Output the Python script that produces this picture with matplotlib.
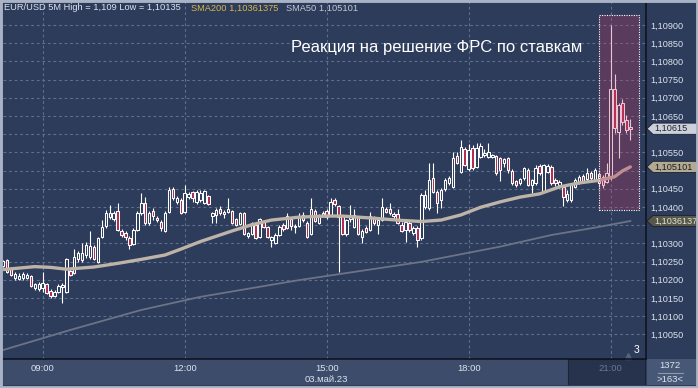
import numpy as np
import pandas as pd
import matplotlib
matplotlib.use("Agg")
import matplotlib.pyplot as plt
from matplotlib.patches import Rectangle, Polygon
from matplotlib.transforms import blended_transform_factory
from matplotlib.ticker import FixedLocator, FuncFormatter

plt.rcParams['font.family'] = ['Liberation Sans', 'DejaVu Sans']

# ---------------- data (EUR/USD, 5 min candles, 03.05.2023) ----------------
start_time = "2023-05-03 08:10"
opens = [1.10238, 1.10254, 1.10232, 1.10205, 1.10203, 1.10205, 1.10205, 1.10210, 1.10177, 1.10175,
         1.10178, 1.10188, 1.10169, 1.10155, 1.10167, 1.10180, 1.10166, 1.10225, 1.10219, 1.10257,
         1.10254, 1.10268, 1.10263, 1.10291, 1.10250, 1.10318, 1.10348, 1.10372, 1.10366, 1.10389,
         1.10334, 1.10329, 1.10314, 1.10299, 1.10337, 1.10383, 1.10412, 1.10355, 1.10390, 1.10369,
         1.10360, 1.10334, 1.10387, 1.10449, 1.10414, 1.10419, 1.10387, 1.10428, 1.10440, 1.10414,
         1.10419, 1.10412, 1.10430, 1.10375, 1.10377, 1.10395, 1.10380, 1.10387, 1.10389, 1.10366,
         1.10353, 1.10383, 1.10320, 1.10326, 1.10350, 1.10318, 1.10360, 1.10344, 1.10309, 1.10302,
         1.10323, 1.10350, 1.10343, 1.10366, 1.10344, 1.10349, 1.10379, 1.10357, 1.10325, 1.10389,
         1.10357, 1.10378, 1.10389, 1.10377, 1.10419, 1.10403, 1.10375, 1.10325, 1.10366, 1.10346,
         1.10372, 1.10318, 1.10341, 1.10337, 1.10372, 1.10350, 1.10364, 1.10395, 1.10394, 1.10374,
         1.10380, 1.10350, 1.10337, 1.10355, 1.10328, 1.10343, 1.10314, 1.10399, 1.10397, 1.10479,
         1.10442, 1.10419, 1.10449, 1.10465, 1.10456, 1.10540, 1.10497, 1.10558, 1.10503, 1.10561,
         1.10511, 1.10538, 1.10543, 1.10538, 1.10538, 1.10540, 1.10534, 1.10520, 1.10534, 1.10500,
         1.10471, 1.10465, 1.10479, 1.10502, 1.10460, 1.10465, 1.10513, 1.10445, 1.10497, 1.10511,
         1.10474, 1.10460, 1.10456, 1.10419, 1.10419, 1.10456, 1.10467, 1.10485, 1.10476, 1.10494,
         1.10474, 1.10491, 1.10483, 1.10469, 1.10485, 1.10723, 1.10607, 1.10685, 1.10639, 1.10621]
highs = [1.10254, 1.10257, 1.10235, 1.10221, 1.10219, 1.10221, 1.10219, 1.10213, 1.10191, 1.10194,
         1.10222, 1.10191, 1.10174, 1.10172, 1.10188, 1.10191, 1.10260, 1.10230, 1.10284, 1.10279,
         1.10301, 1.10305, 1.10334, 1.10295, 1.10317, 1.10364, 1.10392, 1.10405, 1.10389, 1.10410,
         1.10339, 1.10334, 1.10320, 1.10342, 1.10389, 1.10437, 1.10428, 1.10389, 1.10397, 1.10375,
         1.10364, 1.10389, 1.10456, 1.10456, 1.10430, 1.10425, 1.10460, 1.10441, 1.10444, 1.10447,
         1.10447, 1.10447, 1.10433, 1.10386, 1.10397, 1.10403, 1.10391, 1.10424, 1.10391, 1.10369,
         1.10386, 1.10386, 1.10331, 1.10359, 1.10353, 1.10370, 1.10364, 1.10348, 1.10320, 1.10328,
         1.10350, 1.10356, 1.10383, 1.10369, 1.10353, 1.10384, 1.10386, 1.10361, 1.10424, 1.10394,
         1.10381, 1.10389, 1.10394, 1.10425, 1.10425, 1.10405, 1.10377, 1.10367, 1.10405, 1.10394,
         1.10375, 1.10339, 1.10348, 1.10387, 1.10375, 1.10367, 1.10424, 1.10400, 1.10412, 1.10386,
         1.10394, 1.10359, 1.10364, 1.10361, 1.10348, 1.10348, 1.10438, 1.10447, 1.10520, 1.10522,
         1.10447, 1.10452, 1.10480, 1.10485, 1.10552, 1.10552, 1.10584, 1.10565, 1.10573, 1.10570,
         1.10575, 1.10577, 1.10558, 1.10575, 1.10545, 1.10543, 1.10537, 1.10535, 1.10537, 1.10504,
         1.10474, 1.10480, 1.10509, 1.10507, 1.10477, 1.10515, 1.10518, 1.10518, 1.10518, 1.10515,
         1.10480, 1.10474, 1.10460, 1.10447, 1.10466, 1.10480, 1.10488, 1.10491, 1.10506, 1.10499,
         1.10506, 1.10496, 1.10488, 1.10520, 1.10900, 1.10765, 1.10686, 1.10696, 1.10653, 1.10643]
lows = [1.10235, 1.10219, 1.10210, 1.10199, 1.10199, 1.10199, 1.10202, 1.10180, 1.10172, 1.10169,
        1.10167, 1.10161, 1.10151, 1.10153, 1.10164, 1.10135, 1.10164, 1.10210, 1.10216, 1.10249,
        1.10249, 1.10260, 1.10257, 1.10254, 1.10246, 1.10315, 1.10342, 1.10367, 1.10361, 1.10334,
        1.10317, 1.10309, 1.10284, 1.10295, 1.10334, 1.10377, 1.10350, 1.10350, 1.10364, 1.10359,
        1.10334, 1.10331, 1.10384, 1.10419, 1.10408, 1.10380, 1.10384, 1.10422, 1.10414, 1.10408,
        1.10414, 1.10408, 1.10405, 1.10355, 1.10356, 1.10377, 1.10369, 1.10384, 1.10353, 1.10348,
        1.10350, 1.10323, 1.10314, 1.10323, 1.10312, 1.10316, 1.10342, 1.10315, 1.10290, 1.10298,
        1.10320, 1.10334, 1.10339, 1.10337, 1.10328, 1.10345, 1.10359, 1.10315, 1.10323, 1.10359,
        1.10353, 1.10372, 1.10367, 1.10375, 1.10403, 1.10222, 1.10323, 1.10320, 1.10359, 1.10342,
        1.10323, 1.10302, 1.10328, 1.10334, 1.10350, 1.10325, 1.10361, 1.10384, 1.10377, 1.10367,
        1.10353, 1.10331, 1.10305, 1.10331, 1.10323, 1.10290, 1.10309, 1.10394, 1.10392, 1.10438,
        1.10383, 1.10396, 1.10444, 1.10460, 1.10452, 1.10518, 1.10493, 1.10513, 1.10499, 1.10502,
        1.10507, 1.10535, 1.10537, 1.10535, 1.10535, 1.10488, 1.10472, 1.10511, 1.10494, 1.10460,
        1.10456, 1.10460, 1.10474, 1.10458, 1.10437, 1.10460, 1.10488, 1.10441, 1.10493, 1.10460,
        1.10458, 1.10452, 1.10403, 1.10414, 1.10414, 1.10452, 1.10463, 1.10466, 1.10471, 1.10474,
        1.10471, 1.10456, 1.10451, 1.10466, 1.10474, 1.10603, 1.10534, 1.10625, 1.10603, 1.10584]
closes = [1.10251, 1.10222, 1.10213, 1.10216, 1.10211, 1.10215, 1.10214, 1.10183, 1.10188, 1.10188,
          1.10192, 1.10164, 1.10154, 1.10166, 1.10184, 1.10185, 1.10256, 1.10213, 1.10263, 1.10274,
          1.10273, 1.10295, 1.10293, 1.10256, 1.10314, 1.10346, 1.10384, 1.10383, 1.10384, 1.10337,
          1.10323, 1.10318, 1.10295, 1.10337, 1.10384, 1.10412, 1.10355, 1.10384, 1.10374, 1.10363,
          1.10341, 1.10384, 1.10447, 1.10424, 1.10425, 1.10383, 1.10437, 1.10436, 1.10424, 1.10440,
          1.10438, 1.10443, 1.10408, 1.10383, 1.10391, 1.10383, 1.10387, 1.10395, 1.10357, 1.10350,
          1.10383, 1.10326, 1.10328, 1.10355, 1.10314, 1.10366, 1.10346, 1.10318, 1.10317, 1.10323,
          1.10344, 1.10339, 1.10375, 1.10348, 1.10348, 1.10375, 1.10364, 1.10318, 1.10395, 1.10362,
          1.10374, 1.10383, 1.10372, 1.10414, 1.10408, 1.10372, 1.10326, 1.10364, 1.10374, 1.10377,
          1.10326, 1.10334, 1.10332, 1.10374, 1.10355, 1.10364, 1.10399, 1.10387, 1.10383, 1.10381,
          1.10357, 1.10334, 1.10360, 1.10337, 1.10342, 1.10309, 1.10433, 1.10433, 1.10474, 1.10442,
          1.10410, 1.10447, 1.10474, 1.10479, 1.10534, 1.10522, 1.10566, 1.10515, 1.10556, 1.10506,
          1.10561, 1.10568, 1.10547, 1.10551, 1.10543, 1.10492, 1.10502, 1.10531, 1.10502, 1.10465,
          1.10460, 1.10476, 1.10506, 1.10460, 1.10474, 1.10506, 1.10492, 1.10515, 1.10513, 1.10465,
          1.10465, 1.10469, 1.10428, 1.10436, 1.10460, 1.10474, 1.10482, 1.10469, 1.10492, 1.10479,
          1.10502, 1.10465, 1.10460, 1.10494, 1.10724, 1.10616, 1.10680, 1.10634, 1.10611, 1.10615]

sma50_idx = [0, 8, 12, 16, 23, 29, 35, 41, 45, 50, 58, 63, 68, 75, 82, 86, 94, 101, 106, 111,
             116, 121, 126, 131, 136, 141, 146, 151, 155, 157, 159]
sma50_val = [1.10228, 1.10236, 1.10234, 1.10229, 1.10235, 1.10245, 1.10256, 1.10268, 1.10284, 1.10305,
             1.10334, 1.10351, 1.10364, 1.10372, 1.10375, 1.10375, 1.10369, 1.10363, 1.10360, 1.10364,
             1.10378, 1.10399, 1.10414, 1.10427, 1.10436, 1.10455, 1.10466, 1.10473, 1.10483, 1.10499,
             1.105101]
sma200_idx = [0, 17, 35, 50, 75, 106, 126, 139, 151, 159]
sma200_val = [1.10007, 1.10062, 1.10117, 1.10153, 1.10199, 1.10249, 1.10291, 1.10323, 1.10345, 1.1036137]

last_price = 1.10615
sma50_last = 1.105101
sma200_last = 1.1036137
price_ticks = [round(1.1005 + 0.0005 * k, 4) for k in range(18)]
covered_ticks = [1.1035, 1.105, 1.106]   # hidden under the price tags
header = "EUR/USD 5M High = 1,109 Low = 1,10135"
sma200_text = "SMA200 1,10361375"
sma50_text = "SMA50 1,105101"
title = "Реакция на решение ФРС по ставкам"
date_label = "03.май.23"
box_idx = (151.1, 161.1)
box_price = (1.10392, 1.10928)

# ---------------- styling ----------------
BG = '#2d3c5b'
GRID = '#5f6f8f'
BORDER = '#a9b3c5'
BEAR = '#b0294f'
TXT = '#dde3ee'

W, H = 698, 388
fig = plt.figure(figsize=(W / 100, H / 100), dpi=100, facecolor=BG)

# bottom time panel & right-bottom cell
pb = fig.add_axes([3 / W, 3 / H, 643 / W, 26 / H], zorder=-2)
pb.set_facecolor('#3d4c6a')
pb.set_xlim(0, 643); pb.set_ylim(0, 26)
pb.add_patch(Rectangle((565, 0), 77, 26, facecolor='#27324c', edgecolor='#1c2438', lw=0.8))
pb.set_xticks([]); pb.set_yticks([])
for s in pb.spines.values():
    s.set_visible(False)
pc = fig.add_axes([647 / W, 3 / H, 49 / W, 26 / H], zorder=-2)
pc.set_facecolor('#475877')
pc.set_xticks([]); pc.set_yticks([])
for s in pc.spines.values():
    s.set_visible(False)

ax = fig.add_axes([3 / W, 29 / H, 643 / W, 357 / H], zorder=0)
ax.set_facecolor(BG)

n = len(opens)
x = np.arange(n)
o = np.array(opens); h = np.array(highs); l = np.array(lows); c = np.array(closes)
up = c >= o

# wicks
ax.vlines(x, l, h, color='white', lw=0.8, zorder=3)
# bodies
body_lo = np.minimum(o, c)
body_h = np.maximum(np.abs(c - o), 0.00002)
ax.bar(x[up], body_h[up], bottom=body_lo[up], width=0.62, facecolor=BG,
       edgecolor='white', linewidth=0.75, zorder=4)
ax.bar(x[~up], body_h[~up], bottom=body_lo[~up], width=0.62, facecolor=BEAR,
       edgecolor='white', linewidth=0.75, zorder=4)

# moving averages
ax.plot(sma200_idx, sma200_val, color='#6c7386', lw=1.3, zorder=2)
ax.plot(sma50_idx, sma50_val, color='#bdb3a6', lw=2.4, zorder=5, solid_capstyle='round')

# highlight box
ax.add_patch(Rectangle((box_idx[0], box_price[0]), box_idx[1] - box_idx[0],
                       box_price[1] - box_price[0], facecolor='#c23a64', alpha=0.3,
                       edgecolor='none', zorder=6))
ax.add_patch(Rectangle((box_idx[0], box_price[0]), box_idx[1] - box_idx[0],
                       box_price[1] - box_price[0], fill=False, edgecolor='white',
                       lw=0.8, ls=(0, (1, 1.2)), zorder=7))

# axes limits (left edge cuts the first candle)
ax.set_xlim(-0.07, 162.97)
ax.set_ylim(1.099822, 1.109632)

# grid & ticks
times = pd.date_range(start_time, periods=n, freq='5min')
tick_pos = [i for i, t in enumerate(times) if t.minute == 0 and t.hour % 3 == 0]
tick_lab = [times[i].strftime('%H:%M') for i in tick_pos]
ax.xaxis.set_major_locator(FixedLocator(tick_pos))
ax.set_xticklabels(tick_lab)
ax.yaxis.set_major_locator(FixedLocator(price_ticks))

def fmt(v, p):
    if any(abs(v - t) < 1e-7 for t in covered_ticks):
        return ''
    return f"{v:.5f}".replace('.', ',')

ax.yaxis.set_major_formatter(FuncFormatter(fmt))
ax.yaxis.tick_right()
ax.grid(True, color=GRID, lw=0.8, ls=(0, (2.5, 2.5)), zorder=1)
ax.tick_params(axis='y', length=0, pad=3, labelsize=6.6, labelcolor=TXT)
ax.tick_params(axis='x', length=0, pad=3.5, labelsize=6.8, labelcolor=TXT)
for lab in ax.get_xticklabels():
    if lab.get_text() == '21:00':
        lab.set_color('#6b7691')
for side in ('top', 'left'):
    ax.spines[side].set_visible(False)
for side in ('right', 'bottom'):
    ax.spines[side].set_color('#0f1420')
    ax.spines[side].set_linewidth(1.2)

# date under 15:00
i15 = tick_pos[tick_lab.index('15:00')]
ax.text(i15, -0.058, date_label, transform=blended_transform_factory(ax.transData, ax.transAxes),
        ha='center', va='center', fontsize=6.8, color=TXT)

# title annotation
ax.text(110.0, 1.10837, title, ha='center', va='center', fontsize=12, color='white', zorder=8)

# small "3" marker bottom-right
ax.text(0.986, 0.012, '3', transform=ax.transAxes, ha='center', va='bottom',
        fontsize=7.5, color='white')
ax.plot([0.972], [0.008], marker='^', ms=5, color='#56627c', transform=ax.transAxes,
        clip_on=False)

# header texts
fig.text(4 / W, 1 - 8 / H, header, fontsize=6.7, color=TXT, va='center', ha='left')
fig.text(191 / W, 1 - 8 / H, sma200_text, fontsize=6.7, color='#d7b44c', va='center', ha='left')
fig.text(286 / W, 1 - 8 / H, sma50_text, fontsize=6.7, color='#c4c8d0', va='center', ha='left')

# right-bottom cell
fig.text(670 / W, 1 - 366 / H, '1372', fontsize=6.8, color=TXT, ha='center', va='center')
fig.text(670 / W, 1 - 379 / H, '>163<', fontsize=6.8, color=TXT, ha='center', va='center')
fig.add_artist(plt.Line2D([658 / W, 683 / W], [1 - 372.7 / H] * 2, color='#8d98ae', lw=0.8,
                          transform=fig.transFigure))

# price tags on the right axis
tr = blended_transform_factory(fig.transFigure, ax.transData)
half = 5.6 / 36390
def tag(price, text, fc, tc):
    x0, x1, x2 = 647 / W, 653 / W, 699 / W
    poly = Polygon([[x0, price], [x1, price + half], [x2, price + half],
                    [x2, price - half], [x1, price - half]], closed=True,
                   transform=tr, facecolor=fc, edgecolor='#1a2030', lw=0.6, zorder=10,
                   clip_on=False)
    fig.add_artist(poly)
    fig.text(654 / W, price, text, transform=tr, fontsize=6.6, color=tc, ha='left',
             va='center', zorder=11)

tag(last_price, f"{last_price:.5f}".replace('.', ','), '#cbd0da', '#1c2230')
tag(sma50_last, f"{sma50_last:.6f}".replace('.', ','), '#b3aa93', '#1c1c1c')
tag(sma200_last, f"{sma200_last:.7f}".replace('.', ','), '#56584a', '#e4e4d6')

# outer border
fig.add_artist(Rectangle((0, 0), 1, 1, transform=fig.transFigure, fill=False,
                         edgecolor=BORDER, lw=3.5, zorder=20))

fig.savefig('out.png', dpi=100, facecolor=fig.get_facecolor())
